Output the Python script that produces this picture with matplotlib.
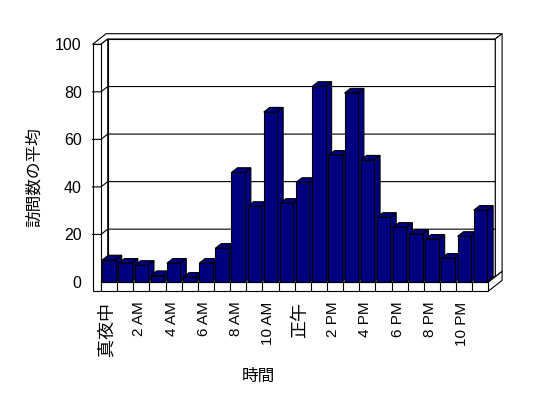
import matplotlib
matplotlib.use('Agg')
import matplotlib.pyplot as plt
from matplotlib.patches import Polygon
from matplotlib.transforms import ScaledTranslation

plt.rcParams['font.family'] = ['Liberation Sans', 'Noto Sans CJK JP']

# ---- data ----
hours = list(range(24))
visits = [9.3, 7.9, 7.0, 2.7, 7.9, 2.0, 7.9, 14.2, 46.1, 31.8, 71.5, 33.1,
          41.9, 82.3, 53.3, 79.5, 51.3, 27.2, 23.0, 20.1, 18.0, 10.0, 19.2, 30.2]
tick_positions = [0, 2, 4, 6, 8, 10, 12, 14, 16, 18, 20, 22]
tick_labels = ['真夜中', '2 AM', '4 AM', '6 AM', '8 AM', '10 AM',
               '正午', '2 PM', '4 PM', '6 PM', '8 PM', '10 PM']
y_ticks = [0, 20, 40, 60, 80, 100]
y_label = '訪問数の平均'
x_label = '時間'

# ---- style / geometry ----
BAR_COLOR = '#000080'
EDGE = 'black'
LW = 0.8
DX, DY = 0.421, 2.23          # depth vector (data units per depth unit)
X0, X1 = -0.5, 23.5
X0T = X0 - 0.52               # outer face of left wall
YTOP = 100
FB = -3.79                    # floor bottom
ZB = 0.88                     # bar depth
HALF = 0.415


def P(x, y, z):
    return (x + z * DX, y + z * DY)


fig = plt.figure(figsize=(5.48, 3.98), dpi=100)
ax = fig.add_axes([0.16843, 0.26884, 0.75128, 0.64899])
ax.set_xlim(-1.034, 24.46)
ax.set_ylim(-3.786, 104.88)
for s in ax.spines.values():
    s.set_visible(False)
ax.patch.set_visible(False)


def poly(pts, fc='white', z=1):
    ax.add_patch(Polygon(pts, closed=True, facecolor=fc, edgecolor=EDGE,
                         linewidth=LW, zorder=z, clip_on=False))


# back wall inner face
poly([P(X0, 0, 1), P(X1, 0, 1), P(X1, YTOP, 1), P(X0, YTOP, 1)])
# top of walls
poly([P(X0T, YTOP, 0), P(X0, YTOP, 0), P(X0, YTOP, 1), P(X1, YTOP, 1),
      P(X1, YTOP, 2), P(X0T, YTOP, 2)])
# back wall right side
poly([P(X1, 0, 1), P(X1, YTOP, 1), P(X1, YTOP, 2), P(X1, 0, 2)])
# left wall inner face
poly([P(X0, 0, 0), P(X0, YTOP, 0), P(X0, YTOP, 1), P(X0, 0, 1)])
# left wall front face
poly([P(X0T, FB, 0), P(X0, FB, 0), P(X0, YTOP, 0), P(X0T, YTOP, 0)])
# floor top
poly([P(X0, 0, 0), P(X1, 0, 0), P(X1, 0, 1), P(X0, 0, 1)])
# floor right side
poly([P(X1, FB, 0), P(X1, 0, 0), P(X1, 0, 2), P(X1, FB, 2)])
# floor front face
poly([P(X0, FB, 0), P(X1, FB, 0), P(X1, 0, 0), P(X0, 0, 0)])
for h in hours[1:]:
    xb = h - 0.5
    ax.plot([xb, xb], [FB, 0], color=EDGE, lw=LW, zorder=2, clip_on=False)

# gridlines
for yv in y_ticks[1:-1]:
    pts = [P(X0T, yv, 0), P(X0, yv, 0), P(X0, yv, 1), P(X1, yv, 1)]
    ax.plot([p[0] for p in pts], [p[1] for p in pts], color=EDGE, lw=LW,
            zorder=2, clip_on=False)

# bars
bars = ax.bar(hours, visits, width=2 * HALF, color=BAR_COLOR, edgecolor=EDGE,
              linewidth=LW)
for i, (h, v, rect) in enumerate(zip(hours, visits, bars)):
    base = 10 + i * 0.1
    xl, xr = h - HALF, h + HALF
    poly([P(xl, v, 0), P(xr, v, 0), P(xr, v, ZB), P(xl, v, ZB)], BAR_COLOR, base)
    poly([P(xr, 0, 0), P(xr, v, 0), P(xr, v, ZB), P(xr, 0, ZB)], BAR_COLOR, base)
    rect.set_zorder(base + 0.05)

# ticks
ax.set_yticks(y_ticks)
ax.tick_params(axis='y', length=0, pad=7.6, labelsize=11.5)
ax.set_xticks(tick_positions, tick_labels, rotation=90)
ax.tick_params(axis='x', length=0, pad=7.7, labelsize=11)
off = ScaledTranslation(-2 / 100, 0, fig.dpi_scale_trans)
for lab in ax.get_xticklabels():
    lab.set_transform(lab.get_transform() + off)
    if any(ord(c) > 0x3000 for c in lab.get_text()):
        lab.set_fontsize(13)

ax.set_ylabel(y_label, fontsize=12, va='center')
ax.yaxis.set_label_coords(-0.1423, 0.4394)
ax.set_xlabel(x_label, fontsize=12, va='center')
ax.xaxis.set_label_coords(0.4025, -0.329)

fig.savefig('out.png', dpi=100)
